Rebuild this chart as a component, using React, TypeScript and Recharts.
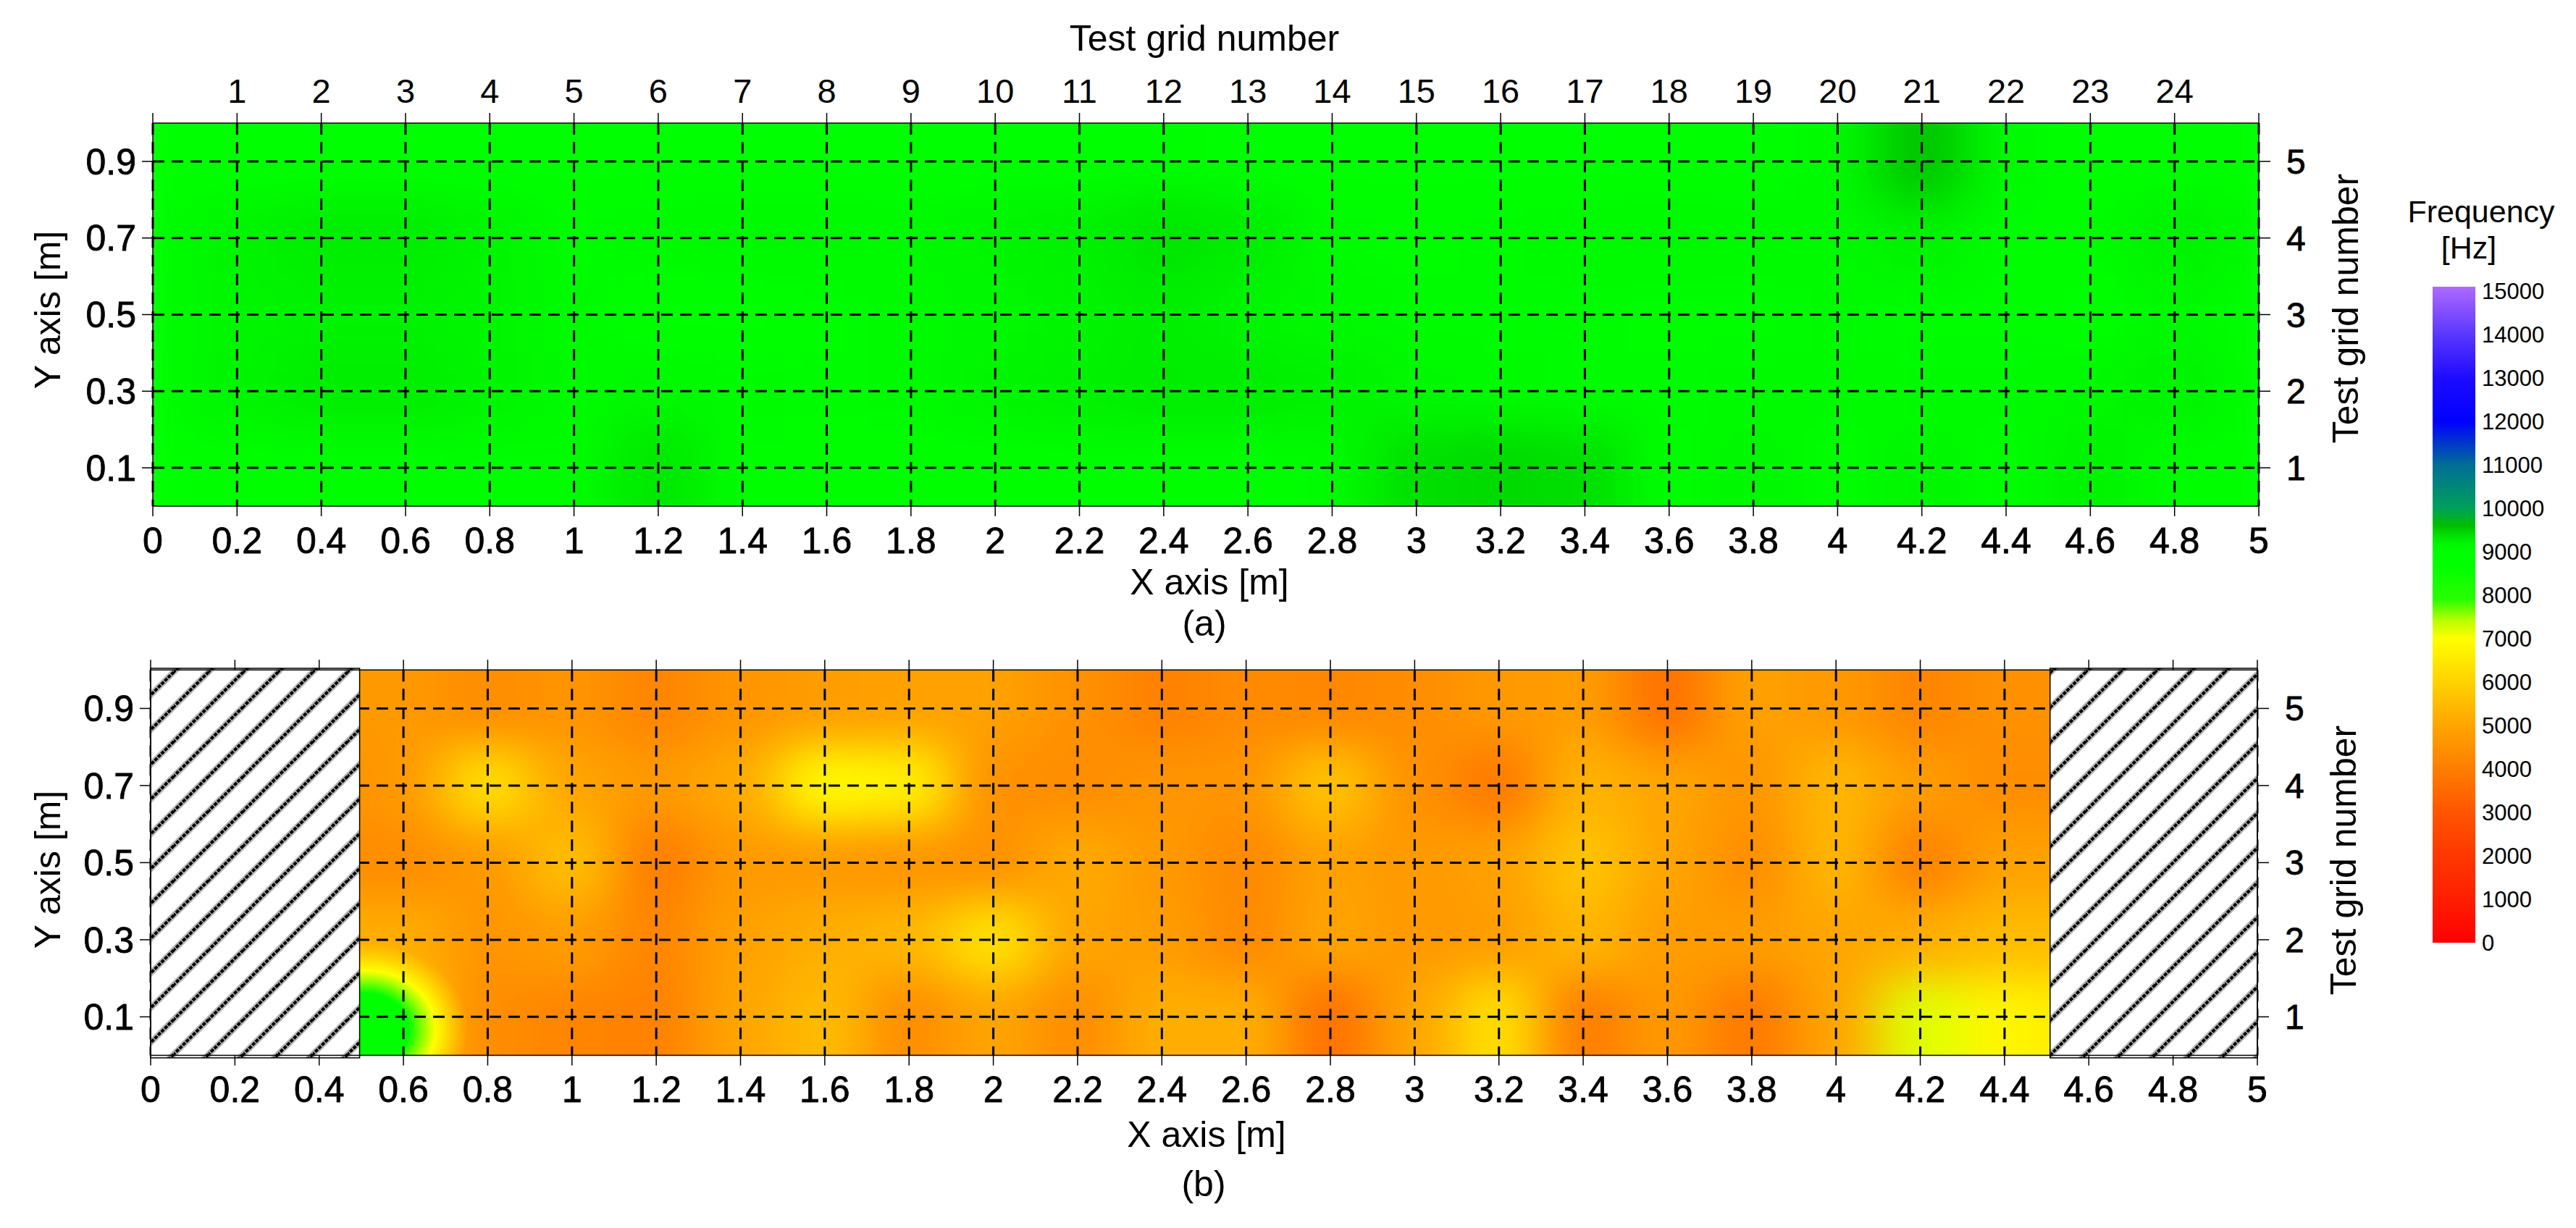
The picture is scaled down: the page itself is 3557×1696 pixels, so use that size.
import { ScatterChart, Scatter, BarChart, Bar, XAxis, YAxis, CartesianGrid, ReferenceArea } from 'recharts';

const xTicks = [0, 0.2, 0.4, 0.6, 0.8, 1, 1.2, 1.4, 1.6, 1.8, 2, 2.2, 2.4, 2.6, 2.8, 3, 3.2, 3.4, 3.6, 3.8, 4, 4.2, 4.4, 4.6, 4.8, 5];
const yTicks = [0.1, 0.3, 0.5, 0.7, 0.9];
const gridColumns = ['', 1, 2, 3, 4, 5, 6, 7, 8, 9, 10, 11, 12, 13, 14, 15, 16, 17, 18, 19, 20, 21, 22, 23, 24, ''];
const gridRows = [1, 2, 3, 4, 5];

// frequency at the test points, rows go from y = 0.9 down to y = 0.1
const rowY = [0.9, 0.7, 0.5, 0.3, 0.1];

const topX = xTicks;
const topValues = [
  [9000, 9000, 9010, 9010, 9000, 9000, 9000, 9000, 9000, 9000, 9000, 9010, 9020, 9010, 9000, 9000, 9000, 9000, 9000, 9000, 9100, 9560, 9100, 9000, 9000, 9000],
  [9050, 9200, 9260, 9260, 9200, 9050, 9100, 9120, 9120, 9100, 9180, 9230, 9340, 9270, 9060, 9040, 9060, 9100, 9120, 9100, 9100, 9230, 9040, 9040, 9230, 9100],
  [9050, 9180, 9220, 9220, 9180, 9080, 9000, 9000, 9040, 9100, 9120, 9200, 9260, 9180, 9100, 9060, 9060, 9060, 9050, 9040, 9080, 9050, 9050, 9000, 9120, 9030],
  [9040, 9200, 9260, 9260, 9200, 9100, 9120, 9090, 9060, 9080, 9180, 9230, 9270, 9270, 9230, 9150, 9080, 9070, 9060, 9080, 9090, 9080, 9080, 9120, 9220, 9040],
  [9000, 9030, 9020, 9020, 9050, 9050, 9320, 9040, 9030, 9030, 9020, 9030, 9030, 9030, 9060, 9380, 9430, 9390, 9030, 9170, 9030, 9190, 9020, 9220, 9040, 9000],
];

const bottomX = [0.4, 0.6, 0.8, 1, 1.2, 1.4, 1.6, 1.8, 2, 2.2, 2.4, 2.6, 2.8, 3, 3.2, 3.4, 3.6, 3.8, 4, 4.2, 4.4, 4.6];
const bottomValues = [
  [4700, 4700, 4400, 4600, 4200, 4600, 4800, 4900, 4900, 4500, 4100, 4350, 4250, 4400, 4700, 4800, 3700, 4900, 4700, 4200, 4500, 4500],
  [4500, 4700, 6300, 5000, 4700, 5100, 6900, 6700, 4500, 4400, 4600, 4600, 5700, 4500, 3900, 5300, 5000, 4600, 5400, 4800, 4400, 4400],
  [4400, 4400, 4700, 5600, 4000, 4700, 4700, 4600, 4500, 5100, 4700, 4300, 4900, 4700, 4900, 5700, 5000, 4400, 5400, 4100, 4900, 4900],
  [5200, 5200, 4600, 4800, 4200, 4900, 5200, 5400, 6400, 5000, 4800, 4300, 5000, 4700, 4800, 5400, 4800, 4800, 5000, 5200, 5500, 5500],
  [6000, 5800, 4400, 4200, 4100, 5000, 5500, 4400, 5000, 4400, 5200, 5200, 3700, 5000, 6300, 4000, 4700, 3900, 5000, 7200, 6800, 6500],
];

// the one test point of map (b) that stays near 9000 Hz
const spotPoints = [{ x: 0.512, y: 0.067, f: 9000 }];

const freqStops = [0, 1000, 2000, 3000, 4000, 5000, 6000, 7000, 7400, 7900, 8700, 9000, 9200, 9400, 9600, 10000, 11000, 12000, 13000, 14000, 15100];
const freqColors = [
  [255, 0, 0], [255, 30, 0], [255, 55, 0], [255, 85, 0], [255, 125, 0], [255, 165, 0], [255, 210, 0], [255, 255, 0], [190, 255, 0], [40, 255, 0], [0, 255, 0],
  [0, 255, 0], [0, 245, 0], [0, 222, 0], [0, 190, 0], [0, 160, 90], [0, 110, 150], [0, 0, 255], [30, 10, 255], [90, 55, 255], [175, 105, 255],
];
const freqTicks = [0, 1000, 2000, 3000, 4000, 5000, 6000, 7000, 8000, 9000, 10000, 11000, 12000, 13000, 14000, 15000];
const freqBar = [{ name: 'Frequency', value: 15100 }];

const FONT = '"Liberation Sans", Arial, sans-serif';

function freqColor(v: number) {
  let i = 0;
  while (i < freqStops.length - 2 && v > freqStops[i + 1]) i++;
  const t = Math.max(0, Math.min(1, (v - freqStops[i]) / (freqStops[i + 1] - freqStops[i])));
  const c = freqColors[i].map((a, k) => Math.round(a + (freqColors[i + 1][k] - a) * t));
  return `rgb(${c[0]},${c[1]},${c[2]})`;
}

function toPoints(xs: number[], rows: number[][]) {
  const pts: { x: number; y: number; f: number }[] = [];
  rows.forEach((row, r) => row.forEach((f, c) => pts.push({ x: xs[c], y: rowY[r], f })));
  return pts;
}

const CELL_W = 118;
const CELL_H = 108;
const EDGE = 70;

// one cell of the map, the blur on the group makes the surface smooth
function HeatCell(props: any) {
  const { cx, cy, payload } = props;
  const up = payload.y === 0.9 ? EDGE : 0;
  const down = payload.y === 0.1 ? EDGE : 0;
  return <rect x={cx - CELL_W / 2} y={cy - CELL_H / 2 - up} width={CELL_W} height={CELL_H + up + down} fill={freqColor(payload.f)} />;
}

function SpotCell(props: any) {
  return <ellipse cx={props.cx} cy={props.cy} rx={140} ry={120} fill="url(#spotGradient)" />;
}

const NoMark = () => null;

const axisStyle = { stroke: '#000', strokeWidth: 1.5 };
const tickStyle = { fill: '#000', fontSize: 50, fontFamily: FONT, stroke: '#000', strokeWidth: 0.8 };

function Panel(props: { className: string; top: number; height: number; margin: any; points: any[]; spot?: any[]; hatched?: boolean; topLabels?: boolean }) {
  const { className, top, height, margin, points, spot, hatched, topLabels } = props;
  return (
    <div className={className} style={{ position: 'absolute', left: 0, top }}>
      <ScatterChart width={3557} height={height} margin={margin}>
        <XAxis xAxisId={0} type="number" dataKey="x" domain={[0, 5]} ticks={xTicks} interval={0} height={1} tickSize={14} tickMargin={15} axisLine={axisStyle} tickLine={axisStyle} tick={tickStyle} zIndex={900} />
        <XAxis
          xAxisId="top" orientation="top" type="number" dataKey="x" domain={[0, 5]} ticks={xTicks} interval={0} height={1} tickSize={14} tickMargin={14}
          axisLine={axisStyle} tickLine={axisStyle} tick={{ ...tickStyle, fontSize: 47, strokeWidth: 0 }}
          tickFormatter={(v: number) => (topLabels ? String(gridColumns[xTicks.indexOf(v)]) : '')} zIndex={900}
        />
        <YAxis yAxisId={0} type="number" dataKey="y" domain={[0, 1]} ticks={yTicks} interval={0} width={1} tickSize={15} tickMargin={8} axisLine={axisStyle} tickLine={axisStyle} tick={tickStyle} zIndex={900} />
        <YAxis
          yAxisId="right" orientation="right" type="number" dataKey="y" domain={[0, 1]} ticks={yTicks} interval={0} width={1} tickSize={16} tickMargin={22}
          axisLine={axisStyle} tickLine={axisStyle} tick={{ ...tickStyle, fontSize: 48 }}
          tickFormatter={(v: number) => String(gridRows[yTicks.indexOf(v)])} zIndex={900}
        />
        <Scatter data={points} xAxisId={0} yAxisId={0} shape={HeatCell} isAnimationActive={false} zIndex={100} />
        {spot && <Scatter className="spot" data={spot} xAxisId={0} yAxisId={0} shape={SpotCell} isAnimationActive={false} zIndex={150} />}
        <Scatter data={points} xAxisId="top" yAxisId="right" shape={NoMark} isAnimationActive={false} zIndex={100} />
        <CartesianGrid xAxisId={0} yAxisId={0} stroke="#000" strokeWidth={3} strokeDasharray="16 10" syncWithTicks zIndex={700} />
        {hatched && <ReferenceArea xAxisId={0} yAxisId={0} x1={0} x2={0.496} y1={-0.0064} y2={1.004} fill="url(#hatch)" fillOpacity={1} stroke="#000" strokeWidth={1.5} ifOverflow="visible" zIndex={800} />}
        {hatched && <ReferenceArea xAxisId={0} yAxisId={0} x1={4.508} x2={5} y1={-0.0064} y2={1.004} fill="url(#hatch)" fillOpacity={1} stroke="#000" strokeWidth={1.5} ifOverflow="visible" zIndex={800} />}
      </ScatterChart>
    </div>
  );
}

function Title(props: { x: number; y: number; size?: number; rotate?: boolean; children: any }) {
  const { x, y, size = 50, rotate, children } = props;
  return (
    <text x={x} y={y} fontSize={size} textAnchor="middle" fill="#000" transform={rotate ? `rotate(-90 ${x} ${y})` : undefined}>
      {children}
    </text>
  );
}

export default function App() {
  return (
    <div style={{ position: 'absolute', left: 0, top: 0, width: 3557, height: 1696, background: '#fff', overflow: 'hidden', fontFamily: FONT }}>
      <style>{`
        .heat-top .recharts-scatter { filter: url(#heatBlur); clip-path: url(#clipTop); }
        .heat-bottom .recharts-scatter { filter: url(#heatBlur); clip-path: url(#clipBottom); }
        .heat-bottom .recharts-scatter.spot { filter: none; }
      `}</style>
      <svg width={3557} height={1696} style={{ position: 'absolute', left: 0, top: 0, zIndex: 5, pointerEvents: 'none' }}>
        <defs>
          <filter id="heatBlur" x="-10%" y="-40%" width="120%" height="180%" colorInterpolationFilters="sRGB">
            <feGaussianBlur stdDeviation="36 30" />
          </filter>
          <clipPath id="clipTop"><rect x={211} y={170} width={2908} height={529} /></clipPath>
          <clipPath id="clipBottom"><rect x={208} y={75.2} width={2909} height={532.4} /></clipPath>
          <pattern id="hatch" width={48} height={48} patternUnits="userSpaceOnUse" patternTransform="translate(0 -850)">
            <rect width={48} height={48} fill="#fff" />
            <path d="M-6 22L22 -6M-6 70L70 -6" stroke="#b8b8b8" strokeWidth={8.5} />
            <path d="M-6 22L22 -6M-6 70L70 -6" stroke="#000" strokeWidth={4.2} strokeDasharray="5 1.5" />
          </pattern>
          <linearGradient id="freqGradient" x1="0" y1="1" x2="0" y2="0">
            {freqStops.map((s, i) => (
              <stop key={s} offset={s / 15100} stopColor={`rgb(${freqColors[i].join(',')})`} />
            ))}
          </linearGradient>
          <radialGradient id="spotGradient">
            <stop offset={0} stopColor="#00ff00" />
            <stop offset={0.42} stopColor="#00ff00" />
            <stop offset={0.56} stopColor="#90ff00" />
            <stop offset={0.68} stopColor="#ffff00" />
            <stop offset={1} stopColor="#ffe000" stopOpacity={0} />
          </radialGradient>
        </defs>
        <Title x={1663} y={70}>Test grid number</Title>
        <Title x={1670} y={821}>X axis [m]</Title>
        <Title x={1663} y={878}>(a)</Title>
        <Title x={1666} y={1584}>X axis [m]</Title>
        <Title x={1662} y={1652}>(b)</Title>
        <Title x={83} y={428} rotate>Y axis [m]</Title>
        <Title x={83} y={1201} rotate>Y axis [m]</Title>
        <Title x={3256} y={426} rotate>Test grid number</Title>
        <Title x={3253} y={1188} rotate>Test grid number</Title>
        <Title x={3426} y={307} size={43}>Frequency</Title>
        <Title x={3409} y={357} size={43}>[Hz]</Title>
      </svg>

      <Panel className="heat-top" top={0} height={850} margin={{ top: 169, left: 210, right: 437, bottom: 150 }} points={toPoints(topX, topValues)} topLabels />
      <Panel className="heat-bottom" top={850} height={846} margin={{ top: 74.2, left: 207, right: 439, bottom: 237.4 }} points={toPoints(bottomX, bottomValues)} spot={spotPoints} hatched />

      <div style={{ position: 'absolute', left: 3359, top: 380 }}>
        <BarChart width={198} height={950} data={freqBar} margin={{ top: 16, left: 0, right: 138, bottom: 28 }} barCategoryGap={0}>
          <XAxis dataKey="name" hide />
          <YAxis
            orientation="right" type="number" domain={[0, 15100]} ticks={freqTicks} interval={0} width={1} axisLine={false} tickLine={false} tickSize={0} tickMargin={9}
            tick={{ fill: '#000', fontSize: 31, fontFamily: FONT }}
          />
          <Bar dataKey="value" fill="url(#freqGradient)" isAnimationActive={false} />
        </BarChart>
      </div>
    </div>
  );
}
